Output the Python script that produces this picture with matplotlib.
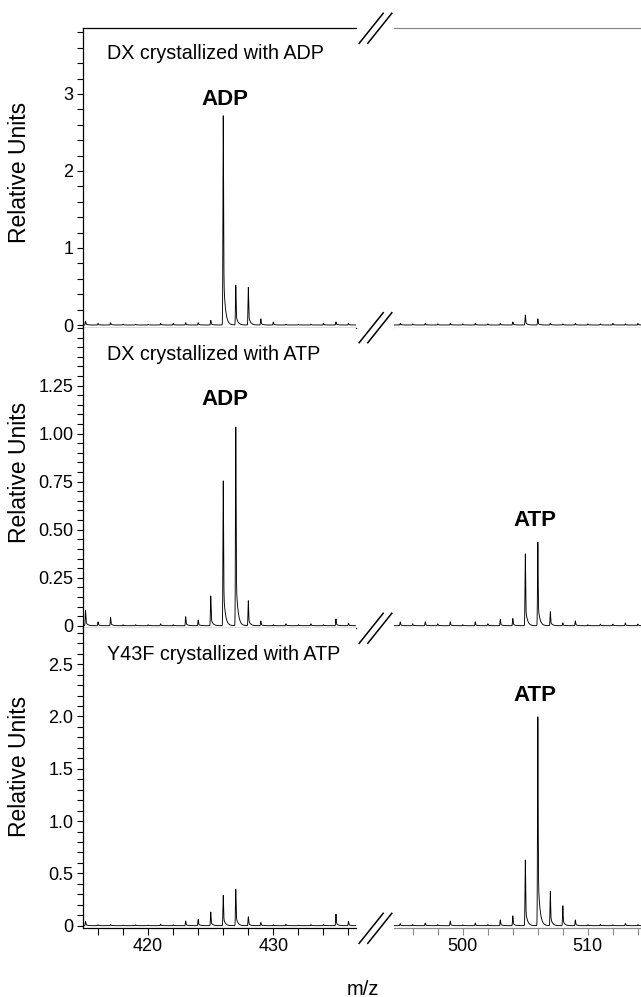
import numpy as np
import matplotlib
matplotlib.use('Agg')
import matplotlib.pyplot as plt
from matplotlib.lines import Line2D
from matplotlib.ticker import FixedLocator, MultipleLocator

plt.rcParams['font.family'] = ['Liberation Sans', 'DejaVu Sans']

# peak positions (m/z), one peak per integer mass
mz_low = list(range(415, 437))
mz_high = list(range(495, 515))

# peak heights (relative units)
dx_adp_low = [0.05, 0.02, 0.03, 0.01, 0.01, 0.01, 0.02, 0.02, 0.03, 0.03, 0.06,
              2.72, 0.52, 0.49, 0.08, 0.04, 0.01, 0.01, 0.01, 0.02, 0.04, 0.02]
dx_adp_high = [0.02, 0.015, 0.02, 0.015, 0.02, 0.015, 0.02, 0.015, 0.02, 0.04,
               0.13, 0.08, 0.025, 0.015, 0.02, 0.015, 0.015, 0.02, 0.015, 0.02]

dx_atp_low = [0.08, 0.02, 0.045, 0.005, 0.005, 0.005, 0.01, 0.005, 0.047, 0.03, 0.155,
              0.755, 1.04, 0.13, 0.025, 0.005, 0.01, 0.005, 0.01, 0.005, 0.035, 0.012]
dx_atp_high = [0.02, 0.01, 0.02, 0.01, 0.02, 0.005, 0.02, 0.01, 0.033, 0.038,
               0.375, 0.435, 0.073, 0.015, 0.025, 0.005, 0.008, 0.008, 0.015, 0.008]

y43f_atp_low = [0.04, 0.008, 0.012, 0.005, 0.008, 0.005, 0.015, 0.008, 0.045, 0.06, 0.13,
                0.29, 0.35, 0.085, 0.03, 0.008, 0.012, 0.005, 0.01, 0.012, 0.11, 0.04]
y43f_atp_high = [0.02, 0.01, 0.025, 0.01, 0.045, 0.008, 0.025, 0.01, 0.055, 0.095,
                 0.63, 2.0, 0.33, 0.19, 0.055, 0.01, 0.012, 0.008, 0.02, 0.01]

titles = ['DX crystallized with ADP', 'DX crystallized with ATP', 'Y43F crystallized with ATP']

ytick_vals = [[0, 1, 2, 3],
              [0, 0.25, 0.5, 0.75, 1.0, 1.25],
              [0, 0.5, 1.0, 1.5, 2.0, 2.5]]
ytick_labels = [['0', '1', '2', '3'],
                ['0', '0.25', '0.50', '0.75', '1.00', '1.25'],
                ['0', '0.5', '1.0', '1.5', '2.0', '2.5']]
ytick_minor = [0.2, 0.05, 0.1]
ylims = [(-0.035, 3.853), (-0.0135, 1.552), (-0.025, 2.843)]

# peak labels: (text, x, y, which side)
peak_labels = [[('ADP', 426.1, 2.93, 0)],
               [('ADP', 426.1, 1.18, 0), ('ATP', 505.8, 0.55, 1)],
               [('ATP', 505.8, 2.20, 1)]]
title_y = [3.53, 1.41, 2.59]

xlim_low = (414.8, 436.6)
xlim_high = (494.5, 514.25)


def spectrum(centers, heights, lo, hi):
    x = np.linspace(lo, hi, 5000)
    y = np.zeros_like(x)
    for c, h in zip(centers, heights):
        d = x - c
        rise = np.exp(-(d / 0.035) ** 2)
        tail = np.where(d >= 0, 0.72 * rise + 0.28 * np.exp(-np.clip(d, 0, None) / 0.14), rise)
        y += h * tail
    return x, y


def main():
    fig = plt.figure(figsize=(6.41, 9.97), dpi=100)
    W, H = 641, 997
    panel_top = [28.3, 327.7, 628.3]
    panel_bot = [327.7, 628.3, 928.3]
    left_x0, left_x1 = 83, 356
    right_x0, right_x1 = 394, 641

    data = [(dx_adp_low, dx_adp_high), (dx_atp_low, dx_atp_high), (y43f_atp_low, y43f_atp_high)]
    ylabel_y = [172, 472, 766]

    for i in range(3):
        b = 1 - panel_bot[i] / H
        h = (panel_bot[i] - panel_top[i]) / H
        axl = fig.add_axes([left_x0 / W, b, (left_x1 - left_x0) / W, h])
        axr = fig.add_axes([right_x0 / W, b, (right_x1 - right_x0) / W, h])
        low, high = data[i]

        x, y = spectrum(mz_low, low, *xlim_low)
        axl.plot(x, y, color='black', lw=0.65)
        x, y = spectrum(mz_high, high, *xlim_high)
        axr.plot(x, y, color='black', lw=0.65)

        for ax in (axl, axr):
            ax.set_ylim(*ylims[i])
            ax.spines['right'].set_visible(False)
            ax.spines['top'].set_visible(i == 0)
            for s in ax.spines.values():
                s.set_linewidth(0.9)
        axl.set_xlim(*xlim_low)
        axr.set_xlim(*xlim_high)
        for s in ('bottom', 'top'):
            axr.spines[s].set_color('#8a8a8a')
        axr.spines['left'].set_visible(False)
        axr.set_yticks([])

        axl.yaxis.set_major_locator(FixedLocator(ytick_vals[i]))
        axl.set_yticklabels(ytick_labels[i])
        axl.yaxis.set_minor_locator(MultipleLocator(ytick_minor[i]))
        axl.tick_params(axis='y', which='both', direction='out', length=4, width=0.8,
                        labelsize=13, pad=3)

        if i == 2:
            axl.set_xticks([420, 430])
            axl.xaxis.set_minor_locator(MultipleLocator(2))
            axr.set_xticks([500, 510])
            axr.xaxis.set_minor_locator(MultipleLocator(2))
            axl.tick_params(axis='x', which='both', direction='out', length=5, width=0.8,
                            labelsize=13, pad=2)
            axr.tick_params(axis='x', which='both', direction='out', length=5, width=0.8,
                            labelsize=13, pad=2, color='#8a8a8a')
        else:
            axl.set_xticks([])
            axr.set_xticks([])

        axl.text(416.7, title_y[i], titles[i], fontsize=14.2, ha='left', va='center')
        for txt, px, py, side in peak_labels[i]:
            (axl, axr)[side].text(px, py, txt, fontsize=16, fontweight='bold',
                                  ha='center', va='center')

        fig.text(20 / W, 1 - ylabel_y[i] / H, 'Relative Units', rotation=90,
                 fontsize=16.5, ha='center', va='center')

    # axis break marks
    for yb in [28.3, 327.7, 628.3, 928.3]:
        for off in (-4.3, 4.3):
            cx = 375.5 + off
            fig.add_artist(Line2D([(cx - 12) / W, (cx + 12) / W],
                                  [1 - (yb + 15) / H, 1 - (yb - 15) / H],
                                  color='black', lw=1.1))

    fig.text(363 / W, 1 - 989 / H, 'm/z', fontsize=14.5, ha='center', va='center')

    fig.savefig('out.png', dpi=100)


if __name__ == '__main__':
    main()
